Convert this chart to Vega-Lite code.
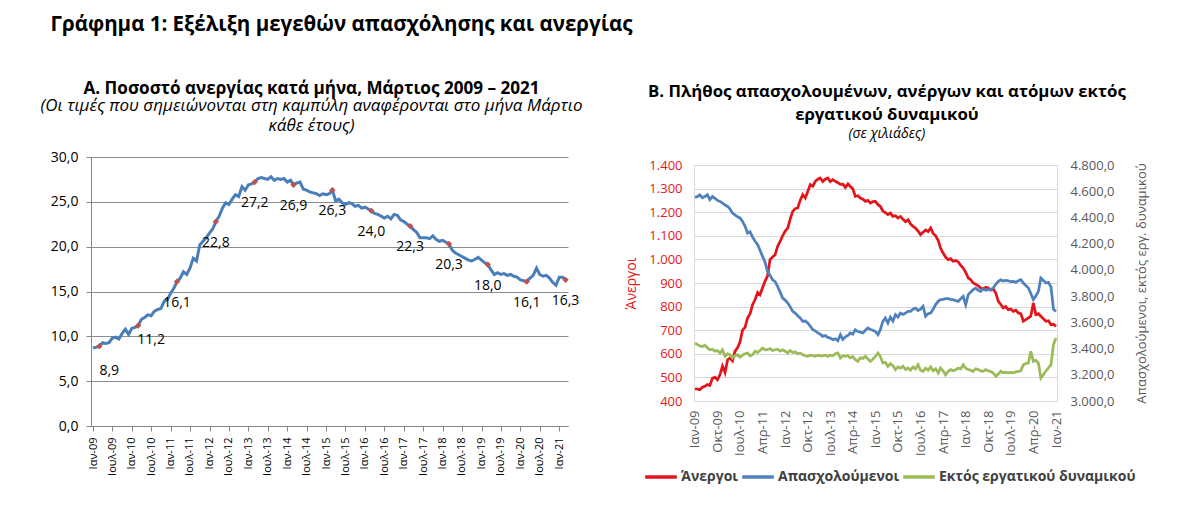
{
  "$schema": "https://vega.github.io/schema/vega-lite/v6.json",
  "background": "white",
  "padding": {"left": 40, "top": 15, "right": 5, "bottom": 5},
  "title": {"text": "Γράφημα 1: Εξέλιξη μεγεθών απασχόλησης και ανεργίας", "anchor": "start", "frame": "bounds", "font": "Open Sans", "fontSize": 20.5, "fontWeight": "bold", "color": "#000000", "offset": 44, "dx": 10},
  "datasets": {
    "m": [
      {"d":"2009-01","r":8.7,"u":452,"e":4553,"n":3442},
      {"d":"2009-02","r":8.8,"u":450,"e":4560,"n":3430},
      {"d":"2009-03","r":8.9,"u":448,"e":4573,"n":3420},
      {"d":"2009-04","r":9.3,"u":458,"e":4550,"n":3415},
      {"d":"2009-05","r":9.2,"u":462,"e":4560,"n":3425},
      {"d":"2009-06","r":9.3,"u":470,"e":4573,"n":3405},
      {"d":"2009-07","r":9.8,"u":466,"e":4535,"n":3391},
      {"d":"2009-08","r":9.9,"u":497,"e":4560,"n":3395},
      {"d":"2009-09","r":9.7,"u":500,"e":4545,"n":3379},
      {"d":"2009-10","r":10.3,"u":490,"e":4530,"n":3385},
      {"d":"2009-11","r":10.8,"u":512,"e":4522,"n":3365},
      {"d":"2009-12","r":10.2,"u":548,"e":4510,"n":3390},
      {"d":"2010-01","r":10.9,"u":520,"e":4495,"n":3341},
      {"d":"2010-02","r":11.0,"u":575,"e":4484,"n":3360},
      {"d":"2010-03","r":11.2,"u":582,"e":4465,"n":3353},
      {"d":"2010-04","r":11.9,"u":570,"e":4434,"n":3328},
      {"d":"2010-05","r":12.1,"u":610,"e":4420,"n":3345},
      {"d":"2010-06","r":12.4,"u":625,"e":4405,"n":3353},
      {"d":"2010-07","r":12.3,"u":650,"e":4396,"n":3335},
      {"d":"2010-08","r":12.8,"u":700,"e":4370,"n":3350},
      {"d":"2010-09","r":13.0,"u":712,"e":4332,"n":3360},
      {"d":"2010-10","r":13.1,"u":752,"e":4281,"n":3366},
      {"d":"2010-11","r":13.9,"u":770,"e":4290,"n":3345},
      {"d":"2010-12","r":14.1,"u":808,"e":4250,"n":3353},
      {"d":"2011-01","r":14.8,"u":830,"e":4218,"n":3379},
      {"d":"2011-02","r":15.4,"u":860,"e":4192,"n":3370},
      {"d":"2011-03","r":16.1,"u":850,"e":4150,"n":3385},
      {"d":"2011-04","r":16.5,"u":880,"e":4103,"n":3404},
      {"d":"2011-05","r":17.2,"u":907,"e":4060,"n":3390},
      {"d":"2011-06","r":16.9,"u":930,"e":3989,"n":3391},
      {"d":"2011-07","r":17.6,"u":999,"e":3960,"n":3400},
      {"d":"2011-08","r":18.7,"u":1010,"e":3925,"n":3385},
      {"d":"2011-09","r":18.4,"u":1020,"e":3910,"n":3391},
      {"d":"2011-10","r":20.2,"u":1055,"e":3874,"n":3395},
      {"d":"2011-11","r":20.6,"u":1076,"e":3830,"n":3380},
      {"d":"2011-12","r":21.0,"u":1100,"e":3785,"n":3391},
      {"d":"2012-01","r":21.5,"u":1120,"e":3770,"n":3380},
      {"d":"2012-02","r":22.0,"u":1133,"e":3747,"n":3366},
      {"d":"2012-03","r":22.8,"u":1170,"e":3720,"n":3385},
      {"d":"2012-04","r":23.4,"u":1203,"e":3684,"n":3370},
      {"d":"2012-05","r":24.3,"u":1215,"e":3670,"n":3375},
      {"d":"2012-06","r":24.9,"u":1218,"e":3650,"n":3360},
      {"d":"2012-07","r":24.7,"u":1250,"e":3633,"n":3365},
      {"d":"2012-08","r":25.3,"u":1274,"e":3608,"n":3353},
      {"d":"2012-09","r":25.8,"u":1260,"e":3610,"n":3345},
      {"d":"2012-10","r":25.6,"u":1288,"e":3595,"n":3341},
      {"d":"2012-11","r":26.7,"u":1317,"e":3570,"n":3350},
      {"d":"2012-12","r":26.3,"u":1310,"e":3544,"n":3345},
      {"d":"2013-01","r":26.9,"u":1331,"e":3535,"n":3341},
      {"d":"2013-02","r":27.0,"u":1340,"e":3519,"n":3350},
      {"d":"2013-03","r":27.2,"u":1345,"e":3510,"n":3345},
      {"d":"2013-04","r":27.6,"u":1330,"e":3493,"n":3345},
      {"d":"2013-05","r":27.7,"u":1340,"e":3500,"n":3350},
      {"d":"2013-06","r":27.6,"u":1345,"e":3485,"n":3340},
      {"d":"2013-07","r":27.5,"u":1330,"e":3480,"n":3350},
      {"d":"2013-08","r":27.8,"u":1338,"e":3468,"n":3345},
      {"d":"2013-09","r":27.4,"u":1331,"e":3475,"n":3360},
      {"d":"2013-10","r":27.6,"u":1325,"e":3460,"n":3366},
      {"d":"2013-11","r":27.5,"u":1318,"e":3506,"n":3328},
      {"d":"2013-12","r":27.6,"u":1319,"e":3470,"n":3345},
      {"d":"2014-01","r":27.2,"u":1305,"e":3490,"n":3340},
      {"d":"2014-02","r":27.4,"u":1320,"e":3500,"n":3345},
      {"d":"2014-03","r":26.9,"u":1309,"e":3519,"n":3330},
      {"d":"2014-04","r":27.1,"u":1300,"e":3510,"n":3340},
      {"d":"2014-05","r":27.2,"u":1267,"e":3544,"n":3315},
      {"d":"2014-06","r":26.4,"u":1270,"e":3530,"n":3302},
      {"d":"2014-07","r":26.3,"u":1260,"e":3525,"n":3330},
      {"d":"2014-08","r":26.1,"u":1255,"e":3519,"n":3325},
      {"d":"2014-09","r":26.0,"u":1246,"e":3540,"n":3340},
      {"d":"2014-10","r":25.9,"u":1250,"e":3557,"n":3320},
      {"d":"2014-11","r":25.7,"u":1239,"e":3545,"n":3302},
      {"d":"2014-12","r":25.9,"u":1245,"e":3540,"n":3320},
      {"d":"2015-01","r":25.8,"u":1246,"e":3530,"n":3340},
      {"d":"2015-02","r":25.9,"u":1232,"e":3506,"n":3366},
      {"d":"2015-03","r":26.3,"u":1225,"e":3544,"n":3341},
      {"d":"2015-04","r":25.1,"u":1205,"e":3607,"n":3290},
      {"d":"2015-05","r":25.3,"u":1198,"e":3633,"n":3295},
      {"d":"2015-06","r":24.9,"u":1190,"e":3595,"n":3264},
      {"d":"2015-07","r":24.7,"u":1196,"e":3640,"n":3285},
      {"d":"2015-08","r":24.9,"u":1182,"e":3610,"n":3270},
      {"d":"2015-09","r":24.8,"u":1185,"e":3658,"n":3239},
      {"d":"2015-10","r":24.5,"u":1175,"e":3640,"n":3260},
      {"d":"2015-11","r":24.6,"u":1182,"e":3671,"n":3250},
      {"d":"2015-12","r":24.3,"u":1170,"e":3660,"n":3265},
      {"d":"2016-01","r":24.4,"u":1160,"e":3671,"n":3240},
      {"d":"2016-02","r":24.2,"u":1168,"e":3684,"n":3252},
      {"d":"2016-03","r":24.0,"u":1150,"e":3684,"n":3235},
      {"d":"2016-04","r":23.7,"u":1140,"e":3700,"n":3260},
      {"d":"2016-05","r":23.6,"u":1133,"e":3709,"n":3245},
      {"d":"2016-06","r":23.4,"u":1120,"e":3690,"n":3277},
      {"d":"2016-07","r":23.2,"u":1105,"e":3700,"n":3235},
      {"d":"2016-08","r":23.4,"u":1115,"e":3722,"n":3226},
      {"d":"2016-09","r":23.1,"u":1125,"e":3646,"n":3250},
      {"d":"2016-10","r":23.6,"u":1118,"e":3665,"n":3235},
      {"d":"2016-11","r":23.5,"u":1133,"e":3671,"n":3260},
      {"d":"2016-12","r":23.0,"u":1110,"e":3700,"n":3230},
      {"d":"2017-01","r":22.8,"u":1100,"e":3735,"n":3245},
      {"d":"2017-02","r":22.5,"u":1080,"e":3760,"n":3214},
      {"d":"2017-03","r":22.3,"u":1048,"e":3773,"n":3252},
      {"d":"2017-04","r":21.9,"u":1027,"e":3775,"n":3230},
      {"d":"2017-05","r":21.6,"u":1010,"e":3780,"n":3200},
      {"d":"2017-06","r":21.0,"u":999,"e":3780,"n":3225},
      {"d":"2017-07","r":21.0,"u":1003,"e":3775,"n":3239},
      {"d":"2017-08","r":21.0,"u":992,"e":3773,"n":3230},
      {"d":"2017-09","r":20.9,"u":995,"e":3765,"n":3239},
      {"d":"2017-10","r":21.2,"u":990,"e":3760,"n":3250},
      {"d":"2017-11","r":20.8,"u":975,"e":3780,"n":3245},
      {"d":"2017-12","r":20.6,"u":963,"e":3798,"n":3277},
      {"d":"2018-01","r":20.7,"u":945,"e":3735,"n":3250},
      {"d":"2018-02","r":20.5,"u":921,"e":3811,"n":3240},
      {"d":"2018-03","r":20.3,"u":915,"e":3830,"n":3235},
      {"d":"2018-04","r":19.6,"u":900,"e":3849,"n":3226},
      {"d":"2018-05","r":19.3,"u":895,"e":3860,"n":3245},
      {"d":"2018-06","r":19.1,"u":888,"e":3845,"n":3240},
      {"d":"2018-07","r":18.9,"u":879,"e":3836,"n":3230},
      {"d":"2018-08","r":18.7,"u":875,"e":3855,"n":3226},
      {"d":"2018-09","r":18.5,"u":882,"e":3845,"n":3240},
      {"d":"2018-10","r":18.4,"u":879,"e":3849,"n":3230},
      {"d":"2018-11","r":18.6,"u":870,"e":3850,"n":3225},
      {"d":"2018-12","r":18.8,"u":875,"e":3862,"n":3214},
      {"d":"2019-01","r":18.5,"u":857,"e":3890,"n":3188},
      {"d":"2019-02","r":18.2,"u":822,"e":3913,"n":3205},
      {"d":"2019-03","r":18.0,"u":810,"e":3925,"n":3226},
      {"d":"2019-04","r":17.4,"u":794,"e":3915,"n":3215},
      {"d":"2019-05","r":16.9,"u":800,"e":3920,"n":3220},
      {"d":"2019-06","r":17.1,"u":787,"e":3917,"n":3214},
      {"d":"2019-07","r":16.9,"u":790,"e":3910,"n":3218},
      {"d":"2019-08","r":17.0,"u":780,"e":3913,"n":3214},
      {"d":"2019-09","r":16.8,"u":785,"e":3905,"n":3222},
      {"d":"2019-10","r":16.9,"u":773,"e":3918,"n":3226},
      {"d":"2019-11","r":16.7,"u":770,"e":3925,"n":3230},
      {"d":"2019-12","r":16.6,"u":738,"e":3900,"n":3277},
      {"d":"2020-01","r":16.3,"u":745,"e":3880,"n":3285},
      {"d":"2020-02","r":16.2,"u":752,"e":3862,"n":3290},
      {"d":"2020-03","r":16.1,"u":760,"e":3820,"n":3379},
      {"d":"2020-04","r":16.5,"u":815,"e":3773,"n":3302},
      {"d":"2020-05","r":16.8,"u":766,"e":3800,"n":3310},
      {"d":"2020-06","r":17.6,"u":770,"e":3836,"n":3290},
      {"d":"2020-07","r":16.9,"u":759,"e":3938,"n":3175},
      {"d":"2020-08","r":16.7,"u":748,"e":3920,"n":3201},
      {"d":"2020-09","r":16.8,"u":738,"e":3900,"n":3230},
      {"d":"2020-10","r":16.5,"u":740,"e":3905,"n":3252},
      {"d":"2020-11","r":16.0,"u":723,"e":3870,"n":3277},
      {"d":"2020-12","r":15.7,"u":725,"e":3700,"n":3430},
      {"d":"2021-01","r":16.6,"u":716,"e":3684,"n":3481},
      {"d":"2021-02","r":16.6},
      {"d":"2021-03","r":16.3}
    ]
  },
  "concat": [
    {
      "data": {"name": "m"},
      "width": 477,
      "height": 269,
      "view": {"stroke": null},
      "title": {
        "text": "Α. Ποσοστό ανεργίας κατά μήνα, Μάρτιος 2009 – 2021",
        "subtitle": ["(Οι τιμές που σημειώνονται στη καμπύλη αναφέρονται στο μήνα Μάρτιο", "κάθε έτους)"],
        "anchor": "middle", "frame": "group", "dx": -18,
        "font": "Open Sans", "fontSize": 17.1, "fontWeight": "bold", "color": "#000000",
        "subtitleFont": "Open Sans", "subtitleFontSize": 17, "subtitleFontStyle": "italic", "subtitleColor": "#000000",
        "subtitleLineHeight": 20, "subtitlePadding": 1, "offset": 16
      },
      "encoding": {
        "x": {
          "field": "d", "type": "temporal",
          "scale": {"type": "utc", "domain": [{"year": 2008, "month": 12, "date": 13, "utc": true}, {"year": 2021, "month": 3, "date": 24, "utc": true}]},
          "axis": {"title": null, "tickCount": {"interval": "month", "step": 6}, "labelExpr": "utcFormat(datum.value, '%b-%y')", "labelAngle": 270, "labelFontSize": 11, "labelColor": "#000000", "labelPadding": 6, "labelFlush": false, "labelOverlap": false, "grid": false, "domain": true, "domainColor": "#868686", "ticks": true, "tickSize": 5, "tickColor": "#868686"}
        },
        "y": {
          "field": "r", "type": "quantitative",
          "scale": {"domain": [0, 30], "nice": false, "zero": true},
          "axis": {"title": null, "values": [0, 5, 10, 15, 20, 25, 30], "format": ".1f", "labelFontSize": 14, "labelColor": "#000000", "labelPadding": 8, "labelOverlap": false, "grid": true, "gridColor": "#8c8c8c", "domain": true, "domainColor": "#868686", "ticks": true, "tickSize": 5, "tickColor": "#868686"}
        }
      },
      "layer": [
        {"mark": {"type": "line", "color": "#4A7EBB", "strokeWidth": 3}},
        {
          "transform": [{"filter": "utcmonth(toDate(datum.d)) == 2"}],
          "mark": {"type": "point", "shape": "diamond", "filled": true, "color": "#C0504D", "size": 40, "opacity": 1}
        },
        {
          "transform": [{"filter": "utcmonth(toDate(datum.d)) == 2 && utcyear(toDate(datum.d)) >= 2011"}],
          "mark": {"type": "text", "dy": 21, "font": "Open Sans", "fontSize": 14, "color": "#000000"},
          "encoding": {"text": {"field": "r", "type": "quantitative", "format": ".1f"}}
        },
        {
          "transform": [{"filter": "utcmonth(toDate(datum.d)) == 2 && utcyear(toDate(datum.d)) == 2009"}],
          "mark": {"type": "text", "dx": 10, "dy": 25, "font": "Open Sans", "fontSize": 14, "color": "#000000"},
          "encoding": {"text": {"field": "r", "type": "quantitative", "format": ".1f"}}
        },
        {
          "transform": [{"filter": "utcmonth(toDate(datum.d)) == 2 && utcyear(toDate(datum.d)) == 2010"}],
          "mark": {"type": "text", "dx": 13, "dy": 14, "font": "Open Sans", "fontSize": 14, "color": "#000000"},
          "encoding": {"text": {"field": "r", "type": "quantitative", "format": ".1f"}}
        }
      ]
    },
    {
      "data": {"name": "m"},
      "transform": [{"filter": "isValid(datum.u)"}],
      "width": 363,
      "height": 244,
      "view": {"stroke": null},
      "title": {
        "text": ["Β. Πλήθος απασχολουμένων, ανέργων και ατόμων εκτός", "εργατικού δυναμικού"],
        "subtitle": "(σε χιλιάδες)",
        "anchor": "middle", "frame": "bounds", "dy": 2,
        "font": "Open Sans", "fontSize": 16.8, "fontWeight": "bold", "color": "#000000", "lineHeight": 23,
        "subtitleFont": "Open Sans", "subtitleFontSize": 14, "subtitleFontStyle": "italic", "subtitleColor": "#000000",
        "subtitlePadding": 3, "offset": 18
      },
      "encoding": {
        "x": {
          "field": "d", "type": "temporal",
          "scale": {"type": "utc", "domain": [{"year": 2008, "month": 12, "date": 20, "utc": true}, {"year": 2021, "month": 1, "date": 13, "utc": true}]},
          "axis": {
            "title": null,
            "values": [
              {"year": 2009, "month": 1, "date": 1, "utc": true},
              {"year": 2009, "month": 10, "date": 1, "utc": true},
              {"year": 2010, "month": 7, "date": 1, "utc": true},
              {"year": 2011, "month": 4, "date": 1, "utc": true},
              {"year": 2012, "month": 1, "date": 1, "utc": true},
              {"year": 2012, "month": 10, "date": 1, "utc": true},
              {"year": 2013, "month": 7, "date": 1, "utc": true},
              {"year": 2014, "month": 4, "date": 1, "utc": true},
              {"year": 2015, "month": 1, "date": 1, "utc": true},
              {"year": 2015, "month": 10, "date": 1, "utc": true},
              {"year": 2016, "month": 7, "date": 1, "utc": true},
              {"year": 2017, "month": 4, "date": 1, "utc": true},
              {"year": 2018, "month": 1, "date": 1, "utc": true},
              {"year": 2018, "month": 10, "date": 1, "utc": true},
              {"year": 2019, "month": 7, "date": 1, "utc": true},
              {"year": 2020, "month": 4, "date": 1, "utc": true},
              {"year": 2021, "month": 1, "date": 1, "utc": true}
            ],
            "labelExpr": "utcFormat(datum.value, '%b-%y')", "labelAngle": 270, "labelFontSize": 13, "labelColor": "#595959", "labelPadding": 9, "labelFlush": false, "labelOverlap": false, "grid": false, "domain": false, "ticks": false
          }
        }
      },
      "layer": [
        {
          "mark": {"type": "line", "strokeWidth": 2.75},
          "encoding": {
            "y": {
              "field": "u", "type": "quantitative",
              "scale": {"domain": [400, 1400], "nice": false, "zero": false, "range": [244, 8]},
              "axis": {"orient": "left", "title": "Άνεργοι", "titleColor": "#e3151b", "titleFontWeight": "normal", "titleFontSize": 14, "titlePadding": 10, "values": [400, 500, 600, 700, 800, 900, 1000, 1100, 1200, 1300, 1400], "format": ",.0f", "labelFontSize": 13, "labelColor": "#e3151b", "labelPadding": 12, "labelOverlap": false, "grid": true, "gridColor": "#d9d9d9", "domain": true, "domainColor": "#d9d9d9", "ticks": false}
            },
            "color": {
              "datum": "Άνεργοι", "type": "nominal",
              "scale": {"domain": ["Άνεργοι", "Απασχολούμενοι", "Εκτός εργατικού δυναμικού"], "range": ["#e3151b", "#4F81BD", "#9BBB59"]},
              "legend": {"orient": "none", "legendX": -51, "legendY": 302, "direction": "horizontal", "title": null, "symbolType": "stroke", "symbolSize": 1000, "symbolStrokeWidth": 3.5, "labelFont": "Open Sans", "labelFontSize": 14, "labelFontWeight": "bold", "labelColor": "#404040", "labelLimit": 400, "columnPadding": -4, "labelOffset": 2}
            }
          }
        },
        {
          "layer": [
            {
              "mark": {"type": "line", "strokeWidth": 2.75},
              "encoding": {
                "y": {
                  "field": "e", "type": "quantitative",
                  "scale": {"domain": [3000, 4800], "nice": false, "zero": false, "range": [244, 8]},
                  "axis": {"orient": "right", "title": "Απασχολούμενοι, εκτός εργ. δυναμικού", "titleColor": "#595959", "titleFontWeight": "normal", "titleFontSize": 13, "titleAngle": 270, "titleBaseline": "top", "titlePadding": 22, "values": [3000, 3200, 3400, 3600, 3800, 4000, 4200, 4400, 4600, 4800], "format": ",.1f", "labelFontSize": 13, "labelColor": "#595959", "labelPadding": 13, "labelOverlap": false, "grid": false, "domain": true, "domainColor": "#d9d9d9", "ticks": false}
                },
                "color": {"datum": "Απασχολούμενοι", "type": "nominal"}
              }
            },
            {
              "mark": {"type": "line", "strokeWidth": 2.75},
              "encoding": {
                "y": {
                  "field": "n", "type": "quantitative",
                  "scale": {"domain": [3000, 4800], "nice": false, "zero": false, "range": [244, 8]},
                  "axis": {"orient": "right", "title": "Απασχολούμενοι, εκτός εργ. δυναμικού", "titleColor": "#595959", "titleFontWeight": "normal", "titleFontSize": 13, "titleAngle": 270, "titleBaseline": "top", "titlePadding": 22, "values": [3000, 3200, 3400, 3600, 3800, 4000, 4200, 4400, 4600, 4800], "format": ",.1f", "labelFontSize": 13, "labelColor": "#595959", "labelPadding": 13, "labelOverlap": false, "grid": false, "domain": true, "domainColor": "#d9d9d9", "ticks": false}
                },
                "color": {"datum": "Εκτός εργατικού δυναμικού", "type": "nominal"}
              }
            }
          ]
        }
      ],
      "resolve": {"scale": {"y": "independent"}}
    }
  ],
  "columns": 2,
  "align": "none",
  "spacing": 41,
  "resolve": {"scale": {"color": "independent"}, "legend": {"color": "independent"}},
  "config": {
    "font": "Open Sans",
    "axis": {"labelFont": "Open Sans", "titleFont": "Open Sans"},
    "legend": {"labelFont": "Open Sans"},
    "locale": {
      "number": {"decimal": ",", "thousands": ".", "grouping": [3], "currency": ["", " €"]},
      "time": {
        "dateTime": "%A, %e %B %Y %X",
        "date": "%d/%m/%Y",
        "time": "%H:%M:%S",
        "periods": ["πμ", "μμ"],
        "days": ["Κυριακή", "Δευτέρα", "Τρίτη", "Τετάρτη", "Πέμπτη", "Παρασκευή", "Σάββατο"],
        "shortDays": ["Κυρ", "Δευ", "Τρι", "Τετ", "Πεμ", "Παρ", "Σαβ"],
        "months": ["Ιανουάριος", "Φεβρουάριος", "Μάρτιος", "Απρίλιος", "Μάιος", "Ιούνιος", "Ιούλιος", "Αύγουστος", "Σεπτέμβριος", "Οκτώβριος", "Νοέμβριος", "Δεκέμβριος"],
        "shortMonths": ["Ιαν", "Φεβ", "Μαρ", "Απρ", "Μαϊ", "Ιουν", "Ιουλ", "Αυγ", "Σεπ", "Οκτ", "Νοε", "Δεκ"]
      }
    }
  }
}
